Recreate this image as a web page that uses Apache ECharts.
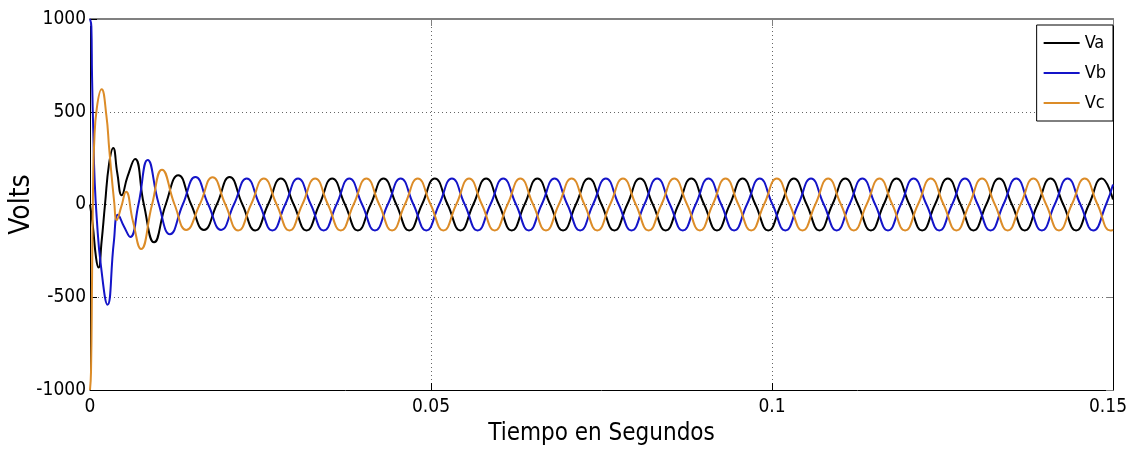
<!DOCTYPE html>
<html>
<head>
<meta charset="utf-8">
<script src="https://cdn.jsdelivr.net/npm/echarts@6/dist/echarts.min.js"></script>
<style>
  html, body { margin: 0; padding: 0; background: #fff; }
  #chart { width: 1129px; height: 450px; }
</style>
</head>
<body>
<div id="chart"></div>
<script>
// tensiones de fase [tiempo (s), volts]
var va = [
    [0, 0], [0.0004, -110], [0.0009, -290], [0.00125, -340], [0.0017, -200], [0.0022, 0], [0.0028, 220],
    [0.0034, 305], [0.0040, 170], [0.00465, 50], [0.0055, 150], [0.0066, 245], [0.0079, 0], [0.0094, -204], [0.0111, 0],
    [0.01295, 158], [0.01483, 0], [0.01671, -137], [0.01859, 0],
    [0.02047, 148], [0.02235, 0], [0.02423, -140], [0.02611, 0],
    [0.02799, 140], [0.02987, 0], [0.03175, -140], [0.03363, 0],
    [0.03551, 140], [0.03739, 0], [0.03927, -140], [0.04115, 0],
    [0.04304, 140], [0.04492, 0], [0.0468, -140], [0.04868, 0],
    [0.05056, 140], [0.05244, 0], [0.05432, -140], [0.0562, 0],
    [0.05808, 140], [0.05996, 0], [0.06184, -140], [0.06372, 0],
    [0.0656, 140], [0.06748, 0], [0.06936, -140], [0.07124, 0],
    [0.07313, 140], [0.07501, 0], [0.07689, -140], [0.07877, 0],
    [0.08065, 140], [0.08253, 0], [0.08441, -140], [0.08629, 0],
    [0.08817, 140], [0.09005, 0], [0.09193, -140], [0.09381, 0],
    [0.09569, 140], [0.09757, 0], [0.09945, -140], [0.10133, 0],
    [0.10321, 140], [0.10509, 0], [0.10697, -140], [0.10885, 0],
    [0.11074, 140], [0.11262, 0], [0.1145, -140], [0.11638, 0],
    [0.11826, 140], [0.12014, 0], [0.12202, -140], [0.1239, 0],
    [0.12578, 140], [0.12766, 0], [0.12954, -140], [0.13142, 0],
    [0.1333, 140], [0.13518, 0], [0.13706, -140], [0.13894, 0],
    [0.14083, 140], [0.14271, 0], [0.14459, -140], [0.14647, 0],
    [0.14835, 140], [0.15, 27]
];
var vb = [
    [0, 1000], [0.0002, 960], [0.0003, 690], [0.0005, 365], [0.00066, 150], [0.001, -80], [0.0016, -330],
    [0.00257, -540], [0.0035, -200], [0.0041, -55], [0.005, -120], [0.0059, -175], [0.0071, 0], [0.00846, 240],
    [0.0101, 0], [0.01173, -160], [0.0136, 0],
    [0.01546, 148], [0.01734, 0], [0.01922, -137], [0.0211, 0],
    [0.02298, 140], [0.02486, 0], [0.02674, -140], [0.02862, 0],
    [0.0305, 140], [0.03238, 0], [0.03426, -140], [0.03614, 0],
    [0.03802, 140], [0.0399, 0], [0.04178, -140], [0.04366, 0],
    [0.04555, 140], [0.04743, 0], [0.04931, -140], [0.05119, 0],
    [0.05307, 140], [0.05495, 0], [0.05683, -140], [0.05871, 0],
    [0.06059, 140], [0.06247, 0], [0.06435, -140], [0.06623, 0],
    [0.06811, 140], [0.06999, 0], [0.07187, -140], [0.07375, 0],
    [0.07564, 140], [0.07752, 0], [0.0794, -140], [0.08128, 0],
    [0.08316, 140], [0.08504, 0], [0.08692, -140], [0.0888, 0],
    [0.09068, 140], [0.09256, 0], [0.09444, -140], [0.09632, 0],
    [0.0982, 140], [0.10008, 0], [0.10196, -140], [0.10384, 0],
    [0.10572, 140], [0.1076, 0], [0.10948, -140], [0.11136, 0],
    [0.11325, 140], [0.11513, 0], [0.11701, -140], [0.11889, 0],
    [0.12077, 140], [0.12265, 0], [0.12453, -140], [0.12641, 0],
    [0.12829, 140], [0.13017, 0], [0.13205, -140], [0.13393, 0],
    [0.13581, 140], [0.13769, 0], [0.13957, -140], [0.14145, 0],
    [0.14334, 140], [0.14522, 0], [0.1471, -140], [0.14898, 0],
    [0.15, 108]
];
var vc = [
    [0, -1000], [0.00015, -900], [0.0003, -400], [0.00045, 100], [0.0006, 320], [0.001, 520], [0.0017, 621],
    [0.0024, 480], [0.00283, 294], [0.00356, 8], [0.00391, -84], [0.0046, -10], [0.00528, 69], [0.0063, -90],
    [0.00748, -240], [0.0091, 0], [0.01056, 188], [0.0124, 0], [0.0141, -137], [0.01609, 0],
    [0.01797, 147], [0.01985, 0], [0.02173, -140], [0.02361, 0],
    [0.02549, 140], [0.02737, 0], [0.02925, -140], [0.03113, 0],
    [0.03301, 140], [0.03489, 0], [0.03677, -140], [0.03865, 0],
    [0.04053, 140], [0.04241, 0], [0.04429, -140], [0.04617, 0],
    [0.04806, 140], [0.04994, 0], [0.05182, -140], [0.0537, 0],
    [0.05558, 140], [0.05746, 0], [0.05934, -140], [0.06122, 0],
    [0.0631, 140], [0.06498, 0], [0.06686, -140], [0.06874, 0],
    [0.07062, 140], [0.0725, 0], [0.07438, -140], [0.07626, 0],
    [0.07815, 140], [0.08003, 0], [0.08191, -140], [0.08379, 0],
    [0.08567, 140], [0.08755, 0], [0.08943, -140], [0.09131, 0],
    [0.09319, 140], [0.09507, 0], [0.09695, -140], [0.09883, 0],
    [0.10071, 140], [0.10259, 0], [0.10447, -140], [0.10635, 0],
    [0.10823, 140], [0.11011, 0], [0.11199, -140], [0.11387, 0],
    [0.11576, 140], [0.11764, 0], [0.11952, -140], [0.1214, 0],
    [0.12328, 140], [0.12516, 0], [0.12704, -140], [0.12892, 0],
    [0.1308, 140], [0.13268, 0], [0.13456, -140], [0.13644, 0],
    [0.13832, 140], [0.1402, 0], [0.14208, -140], [0.14396, 0],
    [0.14585, 140], [0.14773, 0], [0.14961, -140], [0.15, -137]
];
var seriesNames = ['Va', 'Vb', 'Vc'];
var seriesColors = ['#000000', '#1414c8', '#dc8c28'];
var xTicks = { min: 0, max: 0.15, interval: 0.05 };
var yTicks = { min: -1000, max: 1000, interval: 500 };

var font = '"DejaVu Sans Condensed", "Liberation Sans Narrow", sans-serif';
var dotted = { color: '#666', width: 1, type: [1, 3] };

var chart = echarts.init(document.getElementById('chart'));
chart.setOption({
    animation: false,
    grid: { left: 90, right: 16, top: 19, bottom: 60, containLabel: false, outerBoundsMode: 'none' },
    legend: {
        orient: 'vertical',
        right: 16,
        top: 25,
        padding: [9, 7, 9, 7],
        icon: 'rect',
        itemWidth: 36,
        itemHeight: 2,
        itemGap: 12,
        backgroundColor: '#fff',
        borderColor: '#000',
        borderWidth: 1,
        borderRadius: 0,
        textStyle: { fontFamily: font, fontSize: 18, lineHeight: 16, color: '#000' },
        data: seriesNames
    },
    xAxis: [{
        type: 'value', position: 'bottom',
        min: xTicks.min, max: xTicks.max, interval: xTicks.interval,
        name: 'Tiempo en Segundos', nameLocation: 'middle', nameGap: 30,
        nameTextStyle: { fontFamily: font, fontSize: 24, color: '#000' },
        axisLine: { onZero: false, lineStyle: { color: '#000', width: 1 } },
        axisTick: { inside: true, length: 7, lineStyle: { color: '#000' } },
        axisLabel: { fontFamily: font, fontSize: 19, color: '#000', margin: 8,
            formatter: function (v) { return v === xTicks.max ? '{r|' + v + '}' : String(v); },
            rich: { r: { fontFamily: font, fontSize: 19, color: '#000', padding: [0, 10, 0, 0] } } },
        splitLine: { show: true, lineStyle: dotted }
    }, {
        type: 'value', position: 'top',
        min: xTicks.min, max: xTicks.max, interval: xTicks.interval,
        axisLine: { show: true, onZero: false, lineStyle: { color: '#808080', width: 2 } },
        axisTick: { show: true, inside: true, length: 7, lineStyle: { color: '#808080' } },
        axisLabel: { show: false },
        splitLine: { show: false }
    }],
    yAxis: [{
        type: 'value', position: 'left',
        min: yTicks.min, max: yTicks.max, interval: yTicks.interval,
        name: 'Volts', nameLocation: 'middle', nameGap: 54, nameMoveOverlap: false,
        nameTextStyle: { fontFamily: font, fontSize: 28, color: '#000' },
        axisLine: { show: true, onZero: false, lineStyle: { color: '#000', width: 1 } },
        axisTick: { show: true, inside: true, length: 7, lineStyle: { color: '#000' } },
        axisLabel: { fontFamily: font, fontSize: 19, color: '#000', margin: 4,
            formatter: function (v) { return String(v); } },
        splitLine: { show: true, lineStyle: dotted }
    }, {
        type: 'value', position: 'right',
        min: yTicks.min, max: yTicks.max, interval: yTicks.interval,
        axisLine: { show: true, onZero: false, lineStyle: { color: '#000', width: 1 } },
        axisTick: { show: true, inside: true, length: 7, lineStyle: { color: '#808080' } },
        axisLabel: { show: false },
        splitLine: { show: false }
    }],
    series: [va, vb, vc].map(function (d, i) {
        return {
            name: seriesNames[i],
            type: 'line',
            data: d,
            smooth: 0.5,
            symbol: 'none',
            clip: true,
            color: seriesColors[i],
            lineStyle: { color: seriesColors[i], width: 2 }
        };
    })
});
</script>
</body>
</html>
